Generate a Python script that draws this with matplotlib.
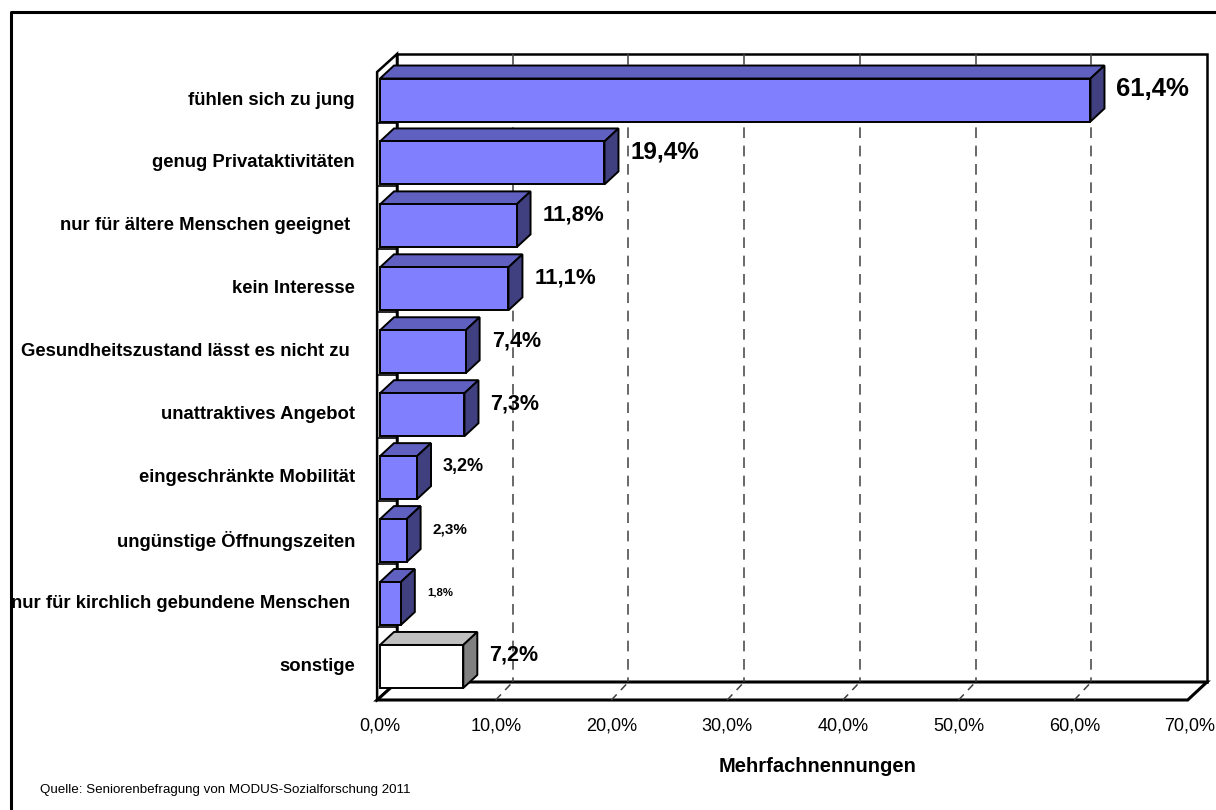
import matplotlib
matplotlib.use("Agg")
import matplotlib.pyplot as plt
from matplotlib.patches import Polygon, Rectangle
from matplotlib.lines import Line2D

plt.rcParams['font.family'] = ['Liberation Sans', 'DejaVu Sans']

# data
categories = [
    "fühlen sich zu jung",
    "genug Privataktivitäten",
    "nur für ältere Menschen geeignet ",
    "kein Interesse",
    "Gesundheitszustand lässt es nicht zu ",
    "unattraktives Angebot",
    "eingeschränkte Mobilität",
    "ungünstige Öffnungszeiten",
    "nur für kirchlich gebundene Menschen ",
    "sonstige",
]
values = [61.4, 19.4, 11.8, 11.1, 7.4, 7.3, 3.2, 2.3, 1.8, 7.2]
label_sizes = [18.5, 17.5, 16, 16, 15.5, 15.5, 13, 11, 8.2, 15.5]
x_ticks = [0, 10, 20, 30, 40, 50, 60, 70]
x_label = "Mehrfachnennungen"
source = "Quelle: Seniorenbefragung von MODUS-Sozialforschung 2011"

W, H = 1216, 810
fig = plt.figure(figsize=(W / 100, H / 100), dpi=100)
fig.patch.set_facecolor("white")

# front plane of the 3D box in pixels
left_px, right_px, top_px, bot_px = 380, 1190, 72, 700
ax = fig.add_axes([left_px / W, (H - bot_px) / H, (right_px - left_px) / W, (bot_px - top_px) / H])
ax.axis("off")
y_bot, y_top = 9.533, -0.445
ax.set_xlim(0, 70)
ax.set_ylim(y_bot, y_top)

px_x = (right_px - left_px) / 70.0
px_y = (bot_px - top_px) / (y_bot - y_top)

# depth offsets (data units)
wdx, wdy = 17 / px_x, -18 / px_y
bdx, bdy = 14 / px_x, -13 / px_y
xmax = x_ticks[-1]

lw = 1.8
# left wall
ax.add_patch(Polygon([(-0.25, y_bot), (-0.25, y_top), (wdx, y_top + wdy), (wdx, y_bot + wdy)],
                     closed=True, facecolor="white", edgecolor="black", lw=lw, zorder=1,
                     clip_on=False))
# back wall
ax.add_patch(Rectangle((wdx, y_top + wdy), xmax, y_bot - y_top, facecolor="white",
                       edgecolor="black", lw=lw, zorder=1, clip_on=False))
# floor
ax.add_patch(Polygon([(-0.25, y_bot), (xmax - 0.2, y_bot), (xmax + wdx, y_bot + wdy), (wdx, y_bot + wdy)],
                     closed=True, facecolor="white", edgecolor="black", lw=2.2, zorder=1.5,
                     clip_on=False))

# grid lines on back wall and floor
for t in x_ticks[1:-1]:
    ax.plot([t + wdx, t + wdx], [y_top + wdy, y_bot + wdy], color="#404040", lw=1.1,
            dashes=(7, 5), zorder=2, clip_on=False)
    ax.plot([t, t + wdx], [y_bot, y_bot + wdy], color="#404040", lw=1.1,
            dashes=(5, 4), zorder=2, clip_on=False)

# category separators on the left wall
for i in range(len(categories) - 1):
    yb = i + 0.5 - 0.13
    ax.plot([-0.25, wdx], [yb, yb], color="black", lw=1.2, zorder=2, clip_on=False)

# 3D bars
h = 0.683
for i, v in enumerate(values):
    if categories[i] == "sonstige":
        cf, ct, cs = "white", "#C0C0C0", "#808080"
    else:
        cf, ct, cs = "#8080FF", "#6060C0", "#404080"
    y0, y1 = i - h / 2, i + h / 2
    ax.add_patch(Polygon([(0, y0), (v, y0), (v + bdx, y0 + bdy), (bdx, y0 + bdy)],
                         closed=True, facecolor=ct, edgecolor="black", lw=1.4, zorder=3,
                         clip_on=False))
    ax.add_patch(Polygon([(v, y0), (v, y1), (v + bdx, y1 + bdy), (v + bdx, y0 + bdy)],
                         closed=True, facecolor=cs, edgecolor="black", lw=1.4, zorder=3,
                         clip_on=False))
    ax.add_patch(Rectangle((0, y0), v, h, facecolor=cf, edgecolor="black", lw=1.4, zorder=4,
                           clip_on=False))
    txt = f"{v:.1f}%".replace(".", ",")
    ax.annotate(txt, (v, i), xytext=(26, 11), textcoords="offset pixels", ha="left",
                va="center", fontsize=label_sizes[i], fontweight="bold", zorder=5,
                annotation_clip=False)
    ax.annotate(categories[i], (0, i), xytext=(-25, 0), textcoords="offset pixels",
                ha="right", va="center", fontsize=13.3, fontweight="bold",
                annotation_clip=False)

# x tick labels
for t in x_ticks:
    ax.annotate(f"{t:.1f}%".replace(".", ","), (t, y_bot), xytext=(0, -26),
                textcoords="offset pixels", ha="center", va="center", fontsize=13,
                annotation_clip=False)

fig.text(818 / W, 1 - 766 / H, x_label, ha="center", va="center", fontsize=14.5,
         fontweight="bold")
fig.text(40 / W, 1 - 790 / H, source, ha="left", va="center", fontsize=9.6)

# outer frame (top and left edges visible)
fig.add_artist(Line2D([11 / W, 11 / W, 1.0], [0.0, 1 - 12 / H, 1 - 12 / H],
                      transform=fig.transFigure, color="black", lw=2.2))

fig.savefig("out.png", dpi=100, facecolor="white")
